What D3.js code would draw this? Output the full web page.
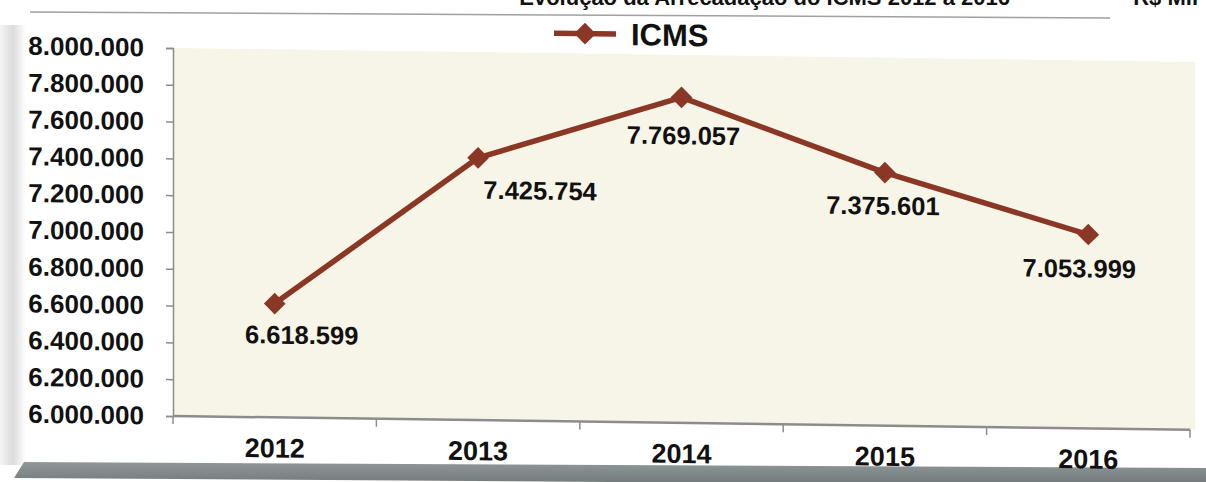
<!DOCTYPE html>
<html lang="pt-BR">
<head>
<meta charset="utf-8">
<title>ICMS 2012 a 2016</title>
<script src="https://cdn.jsdelivr.net/npm/d3@7"></script>
<style>
  html, body { margin: 0; padding: 0; background: #ffffff; }
  svg { display: block; }
  text { font-family: "Liberation Sans", Arial, Helvetica, sans-serif; font-weight: bold; fill: #111; }
</style>
</head>
<body>
<svg id="chart" width="1206" height="482"></svg>
<script>
// Arrecadação anual de ICMS (R$ Mil)
const years = ["2012", "2013", "2014", "2015", "2016"];
const icms = [6618599, 7425754, 7769057, 7375601, 7053999];
const seriesName = "ICMS";
const yTicks = [6000000, 6200000, 6400000, 6600000, 6800000, 7000000, 7200000, 7400000, 7600000, 7800000, 8000000];
const titleText = "Evolução da Arrecadação do ICMS 2012 a 2016";
const unitText = "R$ Mil";

// label placement relative to each point: [dx, dy to baseline]
const labelShift = [[27, 40], [62, 41], [2, 47], [-2, 42], [-9, 43]];

const W = 1206, H = 482;
const plot = { left: 173, right: 1190, top: 48, bottom: 416 };
const lineColor = "#8b3726";

const br = d3.formatLocale({ decimal: ",", thousands: ".", grouping: [3], currency: ["R$", ""] });
const fmt = br.format(",d");

const svg = d3.select("#chart");
const defs = svg.append("defs");

// left edge shading of the panel
const lg = defs.append("linearGradient").attr("id", "edgeLeft").attr("x1", 0).attr("x2", 1);
lg.append("stop").attr("offset", 0).attr("stop-color", "#f4f4f4");
lg.append("stop").attr("offset", 0.5).attr("stop-color", "#dcdcdc");
lg.append("stop").attr("offset", 1).attr("stop-color", "#ffffff");
svg.append("rect").attr("x", 0).attr("y", 25).attr("width", 26).attr("height", 440)
  .attr("fill", "url(#edgeLeft)");

// bottom bevel of the panel
const bg = defs.append("linearGradient").attr("id", "bevel").attr("x1", 0).attr("x2", 0).attr("y1", 0).attr("y2", 1);
bg.append("stop").attr("offset", 0).attr("stop-color", "#8f9898");
bg.append("stop").attr("offset", 1).attr("stop-color", "#6f7878");
svg.append("polygon")
  .attr("points", "24,462 1206,468 1206,486 14,478")
  .attr("fill", "url(#bevel)");

// title strip (cut at the top edge) and separator
svg.append("text").attr("x", 1010).attr("y", 5).attr("text-anchor", "end")
  .attr("font-size", 22).text(titleText);
svg.append("text").attr("x", 1198).attr("y", 5).attr("text-anchor", "end")
  .attr("font-size", 22).text(unitText);
svg.append("line").attr("x1", 30).attr("y1", 12).attr("x2", 1110).attr("y2", 18)
  .attr("stroke", "#8a8a8a").attr("stroke-width", 1.5).attr("opacity", 0.8);

// chart body, slightly sheared like the printed page
const g = svg.append("g")
  .attr("transform", `translate(${plot.left},${plot.bottom}) skewY(0.78) translate(${-plot.left},${-plot.bottom})`);

const x = d3.scaleBand().domain(years).range([plot.left, plot.right]).padding(0);
const y = d3.scaleLinear().domain([6000000, 8000000]).range([plot.bottom, plot.top]);

g.append("rect")
  .attr("x", plot.left).attr("y", plot.top)
  .attr("width", plot.right - plot.left + 5).attr("height", plot.bottom - plot.top)
  .attr("fill", "#f7f5e7");

// y axis
const yAxis = g.append("g").attr("transform", `translate(${plot.left},0)`)
  .call(d3.axisLeft(y).tickValues(yTicks).tickFormat(fmt).tickSize(7).tickPadding(22));
yAxis.select(".domain").attr("stroke", "#8c8c8c").attr("stroke-width", 1.5);
yAxis.selectAll(".tick line").attr("stroke", "#8c8c8c").attr("stroke-width", 1.5);
yAxis.selectAll(".tick text").attr("font-size", 26).attr("fill", "#111")
  .attr("font-family", "'Liberation Sans', Arial, sans-serif").attr("font-weight", "bold");

// x axis with ticks on category boundaries
const xAxisG = g.append("g").attr("transform", `translate(0,${plot.bottom})`);
xAxisG.append("line").attr("x1", plot.left).attr("x2", plot.right)
  .attr("stroke", "#8c8c8c").attr("stroke-width", 2.5);
const bounds = years.map(d => x(d)).concat([x(years[years.length - 1]) + x.bandwidth()]);
xAxisG.selectAll("line.tk").data(bounds).join("line").attr("class", "tk")
  .attr("x1", d => d).attr("x2", d => d).attr("y1", 0).attr("y2", 8)
  .attr("stroke", "#8c8c8c").attr("stroke-width", 1.5);
xAxisG.selectAll("text.yr").data(years).join("text").attr("class", "yr")
  .attr("x", d => x(d) + x.bandwidth() / 2).attr("y", 40)
  .attr("text-anchor", "middle").attr("font-size", 27).text(d => d);

// series line
const cx = d => x(d) + x.bandwidth() / 2;
const line = d3.line().x((d, i) => cx(years[i])).y(d => y(d));
g.append("path").datum(icms).attr("d", line)
  .attr("fill", "none").attr("stroke", lineColor).attr("stroke-width", 5.5)
  .attr("stroke-linejoin", "round");

const diamond = d3.symbol().type(d3.symbolDiamond2).size(300);
g.selectAll("path.mk").data(icms).join("path").attr("class", "mk")
  .attr("d", diamond)
  .attr("transform", (d, i) => `translate(${cx(years[i])},${y(d)})`)
  .attr("fill", lineColor);

// value labels
g.selectAll("text.val").data(icms).join("text").attr("class", "val")
  .attr("x", (d, i) => cx(years[i]) + labelShift[i][0])
  .attr("y", (d, i) => y(d) + labelShift[i][1])
  .attr("text-anchor", "middle").attr("font-size", 25.5)
  .text(d => fmt(d));

// legend
const lgd = g.append("g").attr("transform", "translate(585,28)");
lgd.append("line").attr("x1", -31).attr("x2", 31).attr("stroke", lineColor).attr("stroke-width", 5.5);
lgd.append("path").attr("d", diamond).attr("fill", lineColor);
lgd.append("text").attr("x", 46).attr("y", 11).attr("font-size", 31).text(seriesName);
</script>
</body>
</html>
